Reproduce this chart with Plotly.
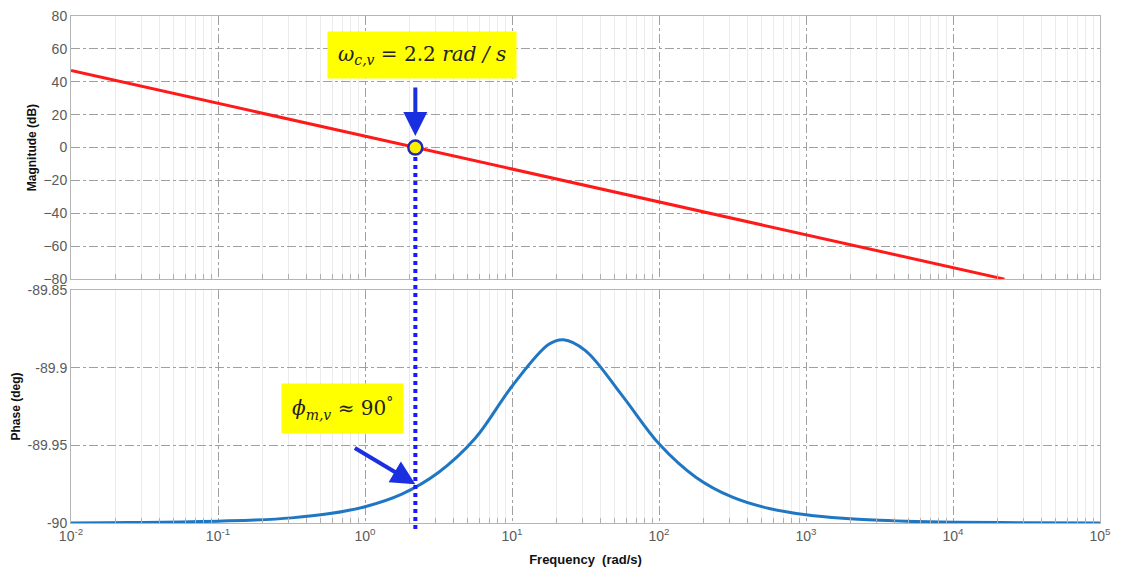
import plotly.graph_objects as go
import numpy as np

# ---- data ----
mag_freq = [0.01, 22400]
mag_db = [46.9, -80]

phase_freq = [0.01, 0.0178, 0.0316, 0.0562, 0.1, 0.178, 0.316, 0.562, 1.0, 1.78, 3.16, 5.62,
              10, 17.8, 22.4, 31.6, 56.2, 100, 178, 316, 562, 1000, 1778, 3162, 5623, 10000, 31623, 100000]
phase_deg = [-90.0, -89.9998, -89.9997, -89.9994, -89.9988, -89.9981, -89.9967, -89.9941, -89.9895,
             -89.9814, -89.9675, -89.9455, -89.912, -89.885, -89.882, -89.889, -89.918, -89.949, -89.9705,
             -89.9834, -89.9907, -89.9947, -89.997, -89.9983, -89.9991, -89.9995, -89.9998, -90.0]

wc = 2.2
x_tickvals = [1e-2, 1e-1, 1e0, 1e1, 1e2, 1e3, 1e4, 1e5]
x_ticktext = ["10<sup>-2</sup>", "10<sup>-1</sup>", "10<sup>0</sup>", "10<sup>1</sup>",
              "10<sup>2</sup>", "10<sup>3</sup>", "10<sup>4</sup>", "10<sup>5</sup>"]
mag_ticks = [80, 60, 40, 20, 0, -20, -40, -60, -80]
phase_ticks = [-89.85, -89.9, -89.95, -90]
phase_ticktext = ["-89.85", "-89.9", "-89.95", "-90"]

minor_vals = [m * 10.0 ** e for e in range(-2, 5) for m in range(2, 10)]

fig = go.Figure()
fig.add_trace(go.Scatter(x=mag_freq, y=mag_db, mode="lines",
                         line=dict(color="#ff1a1a", width=3), xaxis="x", yaxis="y", hoverinfo="skip"))
fig.add_trace(go.Scatter(x=phase_freq, y=phase_deg, mode="lines", line_shape="spline",
                         line=dict(color="#1f77c4", width=3), xaxis="x2", yaxis="y2", hoverinfo="skip"))

tickfont = dict(family="Liberation Sans, Arial", size=14, color="#5a5a5a")
grid_color = "#a0a0a0"
minor_cfg = dict(tickvals=minor_vals, showgrid=True, gridcolor="#ebebeb", gridwidth=1, griddash="solid",
                 ticks="inside", ticklen=5, tickcolor="#b0b0b0")

common_x = dict(type="log", range=[-2, 5], tickvals=x_tickvals, ticktext=x_ticktext,
                showgrid=True, gridcolor=grid_color, griddash="dashdot", gridwidth=1,
                showline=True, linecolor="#b5b5b5", linewidth=1, mirror=True, automargin=False,
                ticklabeloverflow="allow",
                ticks="", tickfont=tickfont, minor=minor_cfg, zeroline=False)

title_font = dict(family="Liberation Sans, Arial", size=12, color="#111")

# page body has an 8px margin: size and margins compensate so the plot lands where the reference has it
fig.update_layout(
    width=1106, height=559,
    margin=dict(l=63, r=14, t=8, b=44, autoexpand=False),
    paper_bgcolor="white", plot_bgcolor="white",
    showlegend=False,
    xaxis=dict(**common_x, domain=[0, 1], anchor="y", showticklabels=False),
    yaxis=dict(domain=[0.481, 1.0], range=[-80, 80], tickvals=mag_ticks,
               showgrid=True, gridcolor=grid_color, griddash="dashdot",
               showline=True, linecolor="#b5b5b5", mirror=True, ticks="", automargin=False,
               ticklabeloverflow="allow",
               tickfont=tickfont, zeroline=False,
               title=dict(text="<b>Magnitude (dB)</b>", font=title_font, standoff=4)),
    xaxis2=dict(**common_x, domain=[0, 1], anchor="y2",
                title=dict(text="<b>Frequency  (rad/s)</b>", font=dict(family="Liberation Sans, Arial", size=13, color="#111"), standoff=14)),
    yaxis2=dict(domain=[0.0, 0.4596], range=[-90.0, -89.85], tickvals=phase_ticks, ticktext=phase_ticktext,
                showgrid=True, gridcolor=grid_color, griddash="dashdot",
                showline=True, linecolor="#b5b5b5", mirror=True, ticks="", automargin=False,
                ticklabeloverflow="allow",
                tickfont=tickfont, zeroline=False,
                title=dict(text="<b>Phase (deg)</b>", font=title_font, standoff=4)),
)

# vertical dotted line at crossover spanning both plots (starts just below the marker)
fig.add_shape(type="line", xref="x", yref="paper", x0=wc, x1=wc, y0=-0.012, y1=0.727,
              line=dict(color="#1a1aff", width=4, dash="dot"), layer="above")

# crossover marker drawn after the line
fig.add_trace(go.Scatter(x=[wc], y=[0], mode="markers",
                         marker=dict(size=14, color="#ffee00", line=dict(color="#1a2bbf", width=2.5)),
                         xaxis="x", yaxis="y", hoverinfo="skip"))

lx = np.log10(wc)
# top annotation box
fig.add_annotation(x=0.388, y=56, xref="x", yref="y",
                   text="<i>ω</i><sub><i>c,v</i></sub> = 2.2 <i>rad / s</i>",
                   showarrow=False, bgcolor="#ffff00", borderpad=10,
                   font=dict(family="DejaVu Serif", size=20, color="#222222"))
fig.add_annotation(x=lx, y=7, xref="x", yref="y", text="", showarrow=True,
                   ax=0, ay=-50, arrowhead=2, arrowsize=1.2, arrowwidth=4, arrowcolor="#1a2fe0")
# bottom annotation box
fig.add_annotation(x=-0.15, y=-89.9266, xref="x2", yref="y2",
                   text="<i>ϕ</i><sub><i>m,v</i></sub> ≈ 90<sup>°</sup>",
                   showarrow=False, bgcolor="#ffff00", borderpad=10,
                   font=dict(family="DejaVu Serif", size=20, color="#222222"))
fig.add_annotation(x=lx, y=-89.975, xref="x2", yref="y2", text="", showarrow=True,
                   ax=-62, ay=-37, arrowhead=2, arrowsize=1.2, arrowwidth=4, arrowcolor="#1a2fe0")

fig.write_html("out.html")
